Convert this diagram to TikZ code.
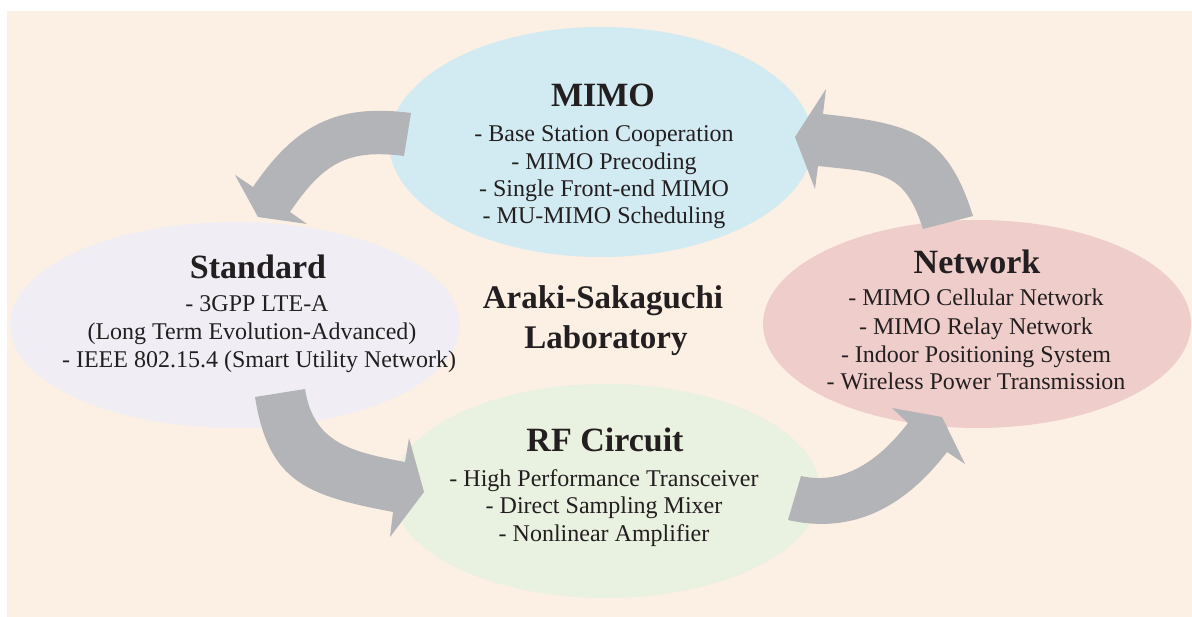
\documentclass[tikz,border=0pt]{standalone}
\usepackage{fontspec}
\setmainfont{Liberation Serif}
\usetikzlibrary{shapes.geometric}
\definecolor{bgpeach}{RGB}{252,239,227}
\definecolor{mimoblue}{RGB}{210,235,242}
\definecolor{stdlav}{RGB}{240,238,244}
\definecolor{netpink}{RGB}{239,205,203}
\definecolor{rfgreen}{RGB}{233,241,225}
\definecolor{arrowgray}{RGB}{179,180,184}
\definecolor{txt}{RGB}{35,31,32}
\begin{document}
\begin{tikzpicture}[x=1pt,y=-1pt,
  blob/.style={ellipse, inner sep=0pt, draw=none},
  ttl/.style={anchor=base, text=txt, font=\fontsize{34}{40}\selectfont\bfseries, inner sep=0pt},
  item/.style={anchor=base, text=txt, font=\fontsize{24}{28}\selectfont, inner sep=0pt},
  lab/.style={anchor=base, text=txt, font=\fontsize{33}{39}\selectfont\bfseries, inner sep=0pt},
  bigarrow/.style={fill=arrowgray, draw=none}]
\useasboundingbox (0,0) rectangle (1192,617);
\fill[white] (0,0) rectangle (1192,617);
\fill[bgpeach] (7,11) rectangle (1192,617);

% ellipses
\node[blob, fill=mimoblue, minimum width=424pt, minimum height=230pt] (mimo) at (601,142) {};
\node[blob, fill=stdlav, minimum width=450pt, minimum height=206pt] (std) at (235,325) {};
\node[blob, fill=netpink, minimum width=428pt, minimum height=208pt] (net) at (977,324) {};
\node[blob, fill=rfgreen, minimum width=428pt, minimum height=214pt] (rf) at (606,491) {};

% curved block arrows
% MIMO -> Standard
\fill[bigarrow] (411,113) .. controls (336.8,103.3) and (295.2,125) .. (253,187)
  -- (235,175) -- (258,217) -- (307,224) -- (290,212)
  .. controls (322.7,164) and (346.6,148.5) .. (404,156) -- cycle;
% Standard -> RF Circuit
\fill[bigarrow] (255,397) .. controls (268.7,483) and (307.6,495.6) .. (393,512)
  -- (390,537) -- (424,492) -- (409,438) -- (405,462)
  .. controls (351,451.7) and (313.7,443.3) .. (305,389) -- cycle;
% RF Circuit -> Network
\fill[bigarrow] (788,520) .. controls (854,535) and (905.6,505.9) .. (947,452)
  -- (965,464) -- (942,417) -- (892,408) -- (908,423)
  .. controls (880.6,458.7) and (844.7,485.9) .. (801,476) -- cycle;
% Network -> MIMO
\fill[bigarrow] (973,216) .. controls (946.6,132) and (910.5,123.6) .. (823,114)
  -- (826,89) -- (795,137) -- (815,189) -- (818,166)
  .. controls (879.6,172.8) and (904.4,169.9) .. (923,229) -- cycle;

% MIMO text
\node[ttl] (mimoT) at (603,106.7) {MIMO};
\node[item] (mimo1) at (604,141.7) {- Base Station Cooperation};
\node[item] (mimo2) at (604,169.3) {- MIMO Precoding};
\node[item] (mimo3) at (604,196.7) {- Single Front-end MIMO};
\node[item] (mimo4) at (604,223.3) {- MU-MIMO Scheduling};

% Standard text
\node[ttl] (stdT) at (258,278.3) {Standard};
\node[item] (std1) at (257,311.7) {- 3GPP LTE-A};
\node[item] (std2) at (252,339.5) {(Long Term Evolution-Advanced)};
\node[item] (std3) at (259,367.3) {- IEEE 802.15.4 (Smart Utility Network)};

% Network text
\node[ttl] (netT) at (977,273.3) {Network};
\node[item] (net1) at (976,306) {- MIMO Cellular Network};
\node[item] (net2) at (976,334.3) {- MIMO Relay Network};
\node[item] (net3) at (976,362.3) {- Indoor Positioning System};
\node[item] (net4) at (976,389.3) {- Wireless Power Transmission};

% RF Circuit text
\node[ttl] (rfT) at (605,451.7) {RF Circuit};
\node[item] (rf1) at (604,486) {- High Performance Transceiver};
\node[item] (rf2) at (604,513.3) {- Direct Sampling Mixer};
\node[item] (rf3) at (604,541.7) {- Nonlinear Amplifier};

% centre label
\node[lab] (lab1) at (603,309) {Araki-Sakaguchi};
\node[lab] (lab2) at (606,349) {Laboratory};
\end{tikzpicture}
\end{document}
